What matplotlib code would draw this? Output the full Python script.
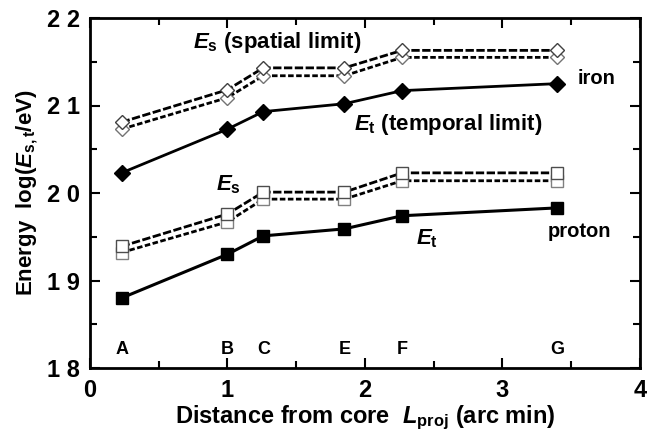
import matplotlib.pyplot as plt
from matplotlib.ticker import MultipleLocator

plt.rcParams['font.family'] = 'Liberation Sans'
plt.rcParams['font.weight'] = 'bold'
plt.rcParams['axes.labelweight'] = 'bold'
plt.rcParams['mathtext.fontset'] = 'custom'
plt.rcParams['mathtext.it'] = 'Liberation Sans:italic:bold'
plt.rcParams['mathtext.rm'] = 'Liberation Sans:bold'
plt.rcParams['mathtext.bf'] = 'Liberation Sans:bold'

# observation points A..G
site_names = ['A', 'B', 'C', 'E', 'F', 'G']
l_proj = [0.23, 1.0, 1.26, 1.85, 2.27, 3.40]

# iron
iron_et = [20.23, 20.73, 20.93, 21.02, 21.17, 21.25]
iron_es_hi = [20.81, 21.18, 21.43, 21.43, 21.63, 21.63]
iron_es_lo = [20.73, 21.09, 21.34, 21.34, 21.55, 21.55]

# proton
proton_et = [18.80, 19.30, 19.51, 19.59, 19.74, 19.83]
proton_es_hi = [19.39, 19.76, 20.01, 20.01, 20.23, 20.23]
proton_es_lo = [19.32, 19.67, 19.93, 19.93, 20.14, 20.14]

x_ticks = [0, 1, 2, 3, 4]
y_ticks = [18, 19, 20, 21, 22]
y_tick_labels = ['1 8', '1 9', '2 0', '2 1', '2 2']

fig = plt.figure(figsize=(6.47, 4.38), dpi=100)
ax = fig.add_axes([90/647, 70/438, 550/647, 350/438])

dash_hi = (0, (3.0, 0.9))
dash_lo = (0, (2.0, 0.9))

# spatial-limit pairs drawn first so the temporal lines sit on top
for es, ls, ec in ((iron_es_lo, dash_lo, '0.45'), (iron_es_hi, dash_hi, '0.25')):
    ax.plot(l_proj, es, linestyle=ls, color='black', lw=2, marker='D', ms=7,
            mfc='white', mec=ec, mew=1)
ax.plot(l_proj, iron_et, '-', color='black', lw=2, marker='D', ms=8, mfc='black', mec='black')

for es, ls, ec in ((proton_es_lo, dash_lo, '0.5'), (proton_es_hi, dash_hi, '0.3')):
    ax.plot(l_proj, es, linestyle=ls, color='black', lw=2, marker='s', ms=9,
            mfc='white', mec=ec, mew=1)
ax.plot(l_proj, proton_et, '-', color='black', lw=2.2, marker='s', ms=9, mfc='black', mec='black')

for name, x in zip(site_names, l_proj):
    ax.text(x, 18.11, name, ha='center', va='bottom', fontsize=13, fontweight='bold')

ax.text(0.75, 21.72, r'$E_{\rm s}$ (spatial limit)', fontsize=16, ha='left', va='center')
ax.text(1.92, 20.78, r'$E_{\rm t}$ (temporal limit)', fontsize=16, ha='left', va='center')
ax.text(3.55, 21.31, 'iron', fontsize=14.5, ha='left', va='center')
ax.text(0.92, 20.1, r'$E_{\rm s}$', fontsize=16, ha='left', va='center')
ax.text(2.37, 19.48, r'$E_{\rm t}$', fontsize=16, ha='left', va='center')
ax.text(3.33, 19.56, 'proton', fontsize=14.5, ha='left', va='center')

ax.set_xlim(0, 4)
ax.set_ylim(18, 22)
ax.xaxis.set_minor_locator(MultipleLocator(0.5))
ax.yaxis.set_minor_locator(MultipleLocator(0.5))
ax.set_xticks(x_ticks)
ax.set_xticklabels([str(t) for t in x_ticks])
ax.set_yticks(y_ticks)
ax.set_yticklabels(y_tick_labels)
ax.tick_params(which='both', direction='in', top=True, right=True, width=1.5)
ax.tick_params(axis='x', pad=8)
ax.tick_params(axis='y', pad=7)
ax.tick_params(which='major', length=7, labelsize=17)
ax.tick_params(which='minor', length=5)
for lab in ax.get_xticklabels() + ax.get_yticklabels():
    lab.set_fontweight('heavy')
    lab.set_fontfamily('Liberation Sans')
for s in ax.spines.values():
    s.set_linewidth(2)

ax.set_xlabel(r'Distance from core  $L_{\rm proj}$ (arc min)', fontsize=17, labelpad=1)
ax.set_ylabel(r'Energy  log($E_{\rm s,t}$/eV)', fontsize=16, labelpad=5)

fig.savefig('out.png', dpi=100)
